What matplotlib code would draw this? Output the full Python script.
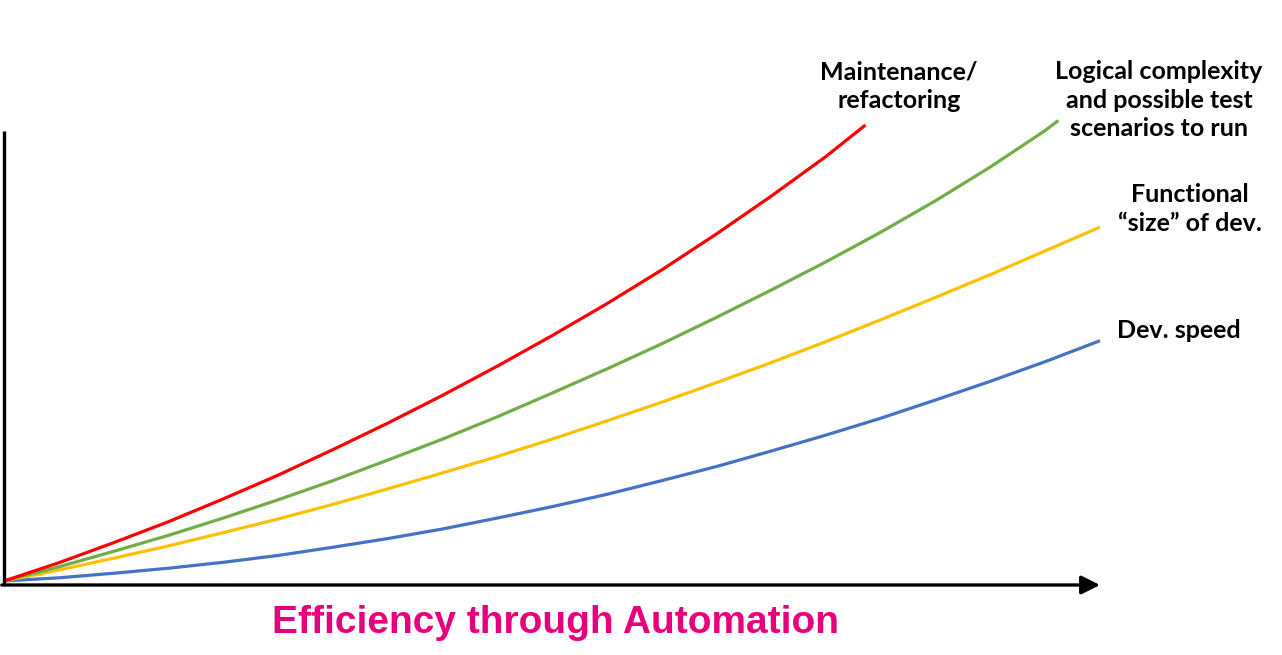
import matplotlib
matplotlib.use('Agg')
import matplotlib.pyplot as plt

# effort / growth curves (x in 0..10, y in 0..10)
red_x = [0, 0.5, 1, 1.5, 2, 2.5, 3, 3.5, 4, 4.5, 5, 5.5, 6, 6.5, 7, 7.5, 7.86]
red_y = [0, 0.40, 0.84, 1.30, 1.80, 2.32, 2.88, 3.46, 4.07, 4.71, 5.38, 6.08,
         6.82, 7.61, 8.44, 9.31, 10.0]

green_x = [0, 0.5, 1, 1.5, 2, 2.5, 3, 3.5, 4, 4.5, 5, 5.5, 6, 6.5, 7, 7.5, 8,
           8.5, 9, 9.5, 9.62]
green_y = [0, 0.31, 0.65, 1.00, 1.38, 1.78, 2.20, 2.65, 3.11, 3.60, 4.12, 4.65,
           5.20, 5.78, 6.38, 7.00, 7.65, 8.34, 9.08, 9.88, 10.1]

yellow_x = [0, 0.5, 1, 1.5, 2, 2.5, 3, 3.5, 4, 4.5, 5, 5.5, 6, 6.5, 7, 7.5, 8,
            8.5, 9, 9.5, 10]
yellow_y = [0, 0.24, 0.50, 0.77, 1.06, 1.36, 1.68, 2.02, 2.37, 2.73, 3.11, 3.51,
            3.92, 4.35, 4.79, 5.25, 5.73, 6.22, 6.72, 7.24, 7.76]

blue_x = [0, 0.5, 1, 1.5, 2, 2.5, 3, 3.5, 4, 4.5, 5, 5.5, 6, 6.5, 7, 7.5, 8,
          8.5, 9, 9.5, 10]
blue_y = [0, 0.07, 0.17, 0.28, 0.41, 0.56, 0.74, 0.93, 1.14, 1.38, 1.63, 1.90,
          2.20, 2.51, 2.85, 3.20, 3.57, 3.97, 4.38, 4.81, 5.27]

labels = ['Maintenance/\nrefactoring',
          'Logical complexity\nand possible test\nscenarios to run',
          'Functional\n\u201csize\u201d of dev.',
          'Dev. speed']
title = 'Efficiency through Automation'

W, H = 1282, 655
fig = plt.figure(figsize=(W / 100, H / 100), dpi=100)
ax = fig.add_axes([0, 0, 1, 1])

# pixel -> data mapping: x=0 at px 4, x=10 at px 1100; y=0 at px 581, y=10 at px 125
sx = 109.6
sy = 45.6
ax.set_xlim(-4 / sx, (W - 4) / sx)
ax.set_ylim(-(H - 581) / sy, 581 / sy)
ax.axis('off')

lw = 2.3
for xs, ys, c in [(blue_x, blue_y, '#4472C4'), (yellow_x, yellow_y, '#FFC000'),
                  (green_x, green_y, '#70AD47'), (red_x, red_y, '#FF0000')]:
    ax.plot(xs, ys, color=c, lw=lw, solid_capstyle='butt', solid_joinstyle='round')

# axes: vertical line and horizontal arrow
base = -4 / sy
ax.plot([0, 0], [base, (581 - 131) / sy], color='black', lw=2.4, solid_capstyle='butt')
ax.annotate('', xy=(10.0, base), xytext=(-0.02, base),
            arrowprops=dict(arrowstyle='-|>', lw=2.4, color='black',
                            mutation_scale=28, shrinkA=0, shrinkB=0))

font = 'Lato'
def put(px, py, s):
    fig.text(px / W, 1 - py / H, s, ha='center', va='center', fontsize=18,
             fontweight='bold', family=font, linespacing=1.3, color='black')

put(899, 86, labels[0])
put(1159, 100, labels[1])
put(1190, 209, labels[2])
put(1179, 331, labels[3])

fig.text(556 / W, 1 - 623 / H, title, ha='center', va='center', fontsize=28,
         fontweight='bold', family='Liberation Sans', color='#E6007E')

fig.savefig('out.png', dpi=100)
